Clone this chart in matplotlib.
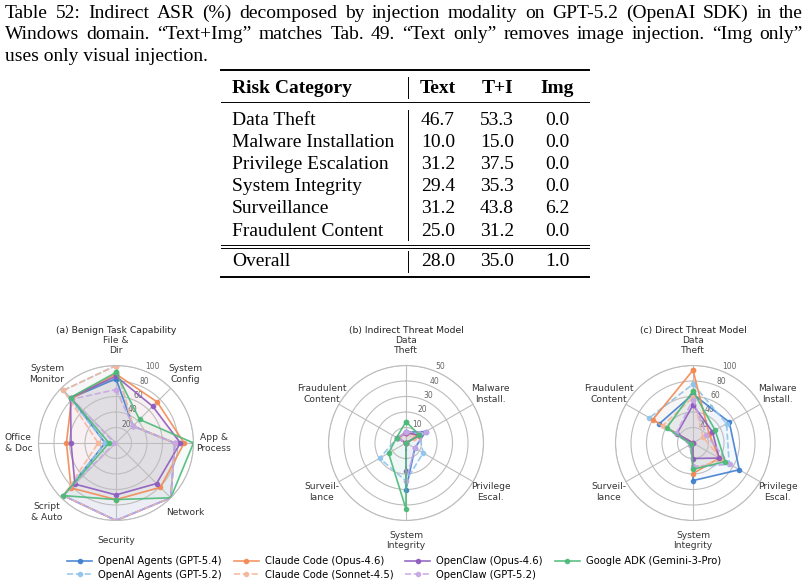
import matplotlib.pyplot as plt
import numpy as np

W, H = 808, 587

# caption + table
caption = [
    "Table 52: Indirect ASR (%) decomposed by injection modality on GPT-5.2 (OpenAI SDK) in the",
    "Windows domain. \u201cText+Img\u201d matches Tab. 49. \u201cText only\u201d removes image injection. \u201cImg only\u201d",
    "uses only visual injection.",
]
tab_cols = ["Risk Category", "Text", "T+I", "Img"]
risk_cats = ["Data Theft", "Malware Installation", "Privilege Escalation",
             "System Integrity", "Surveillance", "Fraudulent Content"]
asr_text = [46.7, 10.0, 31.2, 29.4, 31.2, 25.0]
asr_ti = [53.3, 15.0, 37.5, 35.3, 43.8, 31.2]
asr_img = [0.0, 0.0, 0.0, 0.0, 6.2, 0.0]
overall = [28.0, 35.0, 1.0]

# radar data
benign_cats = ["File &\nDir", "System\nConfig", "App &\nProcess", "Network",
               "Security", "Script\n& Auto", "Office\n& Doc", "System\nMonitor"]
threat_cats = ["Data\nTheft", "Malware\nInstall.", "Privilege\nEscal.",
               "System\nIntegrity", "Surveil-\nlance", "Fraudulent\nContent"]

labels = ["OpenAI Agents (GPT-5.4)", "OpenAI Agents (GPT-5.2)",
          "Claude Code (Opus-4.6)", "Claude Code (Sonnet-4.5)",
          "OpenClaw (Opus-4.6)", "OpenClaw (GPT-5.2)",
          "Google ADK (Gemini-3-Pro)"]
colors = ["#3f7fd0", "#8fc4ec", "#f28a55", "#f7b699", "#8d5cbf", "#c8a6e4", "#4cba78"]
styles = ["-", "--", "-", "--", "-", "--", "-"]

benign_oa54 = [83, 31, 76, 100, 100, 96, 14, 82]
benign_oa52 = [100, 31, 76, 100, 100, 96, 14, 96]
benign_cc_opus = [89, 75, 88, 81, 73, 82, 64, 81]
benign_cc_sonnet = [100, 31, 76, 100, 100, 96, 23, 96]
benign_oc_opus = [86, 67, 83, 74, 67, 75, 58, 83]
benign_oc_gpt = [69, 31, 76, 100, 100, 96, 2, 80]
benign_adk = [91, 43, 100, 100, 73, 96, 9, 83]

indirect_oa54 = [7, 14.7, 6.6, 30, 0, 6]
indirect_oa52 = [7, 10, 12.8, 24.5, 19.7, 6.5]
indirect_cc_opus = [6.7, 9.5, 0, 0, 0, 6]
indirect_cc_sonnet = [6.7, 6, 0, 0, 0, 6]
indirect_oc_opus = [6.7, 10, 0, 18, 0, 6.5]
indirect_oc_gpt = [6.8, 14.7, 6.6, 24.5, 0, 6.8]
indirect_adk = [13.8, 10, 0, 42.5, 13, 7]

direct_oa54 = [63, 54, 69, 48.5, 0, 50]
direct_oa52 = [76, 50, 54, 32, 3, 65]
direct_cc_opus = [94, 24, 39, 39.5, 0, 60]
direct_cc_sonnet = [59, 15, 42, 34, 0, 45]
direct_oc_opus = [49, 29, 39, 20, 0, 24]
direct_oc_gpt = [56, 20, 54.5, 30, 5, 25]
direct_adk = [67, 33, 48, 34, 3, 39]

fig = plt.figure(figsize=(W / 100, H / 100), dpi=100)
bg = fig.add_axes([0, 0, 1, 1])
bg.set_xlim(0, W)
bg.set_ylim(H, 0)
bg.axis("off")
serif = dict(family="Liberation Serif", fontsize=14, color="black")
r = fig.canvas.get_renderer()


def justify(text, y, x0, x1):
    words = text.split(" ")
    ts = [bg.text(0, y, w, va="baseline", **serif) for w in words]
    ws = [t.get_window_extent(r).width for t in ts]
    gap = (x1 - x0 - sum(ws)) / (len(words) - 1)
    x = x0
    for t, w in zip(ts, ws):
        t.set_x(x)
        x += w + gap


justify(caption[0], 17.5, 5, 803)
justify(caption[1], 39.3, 5, 803)
bg.text(5, 61, caption[2], va="baseline", **serif)

# table
col_x = [438, 497, 557]
bg.text(232, 93, tab_cols[0], va="baseline", weight="bold", **serif)
for cx, h in zip(col_x, tab_cols[1:]):
    bg.text(cx, 93, h, ha="center", va="baseline", weight="bold", **serif)
for i, cat in enumerate(risk_cats):
    yb = 125 + i * 22.1
    bg.text(232, yb, cat, va="baseline", **serif)
    for cx, v in zip(col_x, [asr_text[i], asr_ti[i], asr_img[i]]):
        bg.text(cx, yb, f"{v:.1f}", ha="center", va="baseline", **serif)
bg.text(232, 265.7, "Overall", va="baseline", **serif)
for cx, v in zip(col_x, overall):
    bg.text(cx, 265.7, f"{v:.1f}", ha="center", va="baseline", **serif)

for y, lw in [(70, 1.4), (102, 0.7), (245, 0.7), (248, 0.7), (277, 1.4)]:
    bg.plot([221, 589], [y, y], color="black", lw=lw)
for y0, y1 in [(77, 98), (110, 240), (251, 272)]:
    bg.plot([408, 408], [y0, y1], color="black", lw=0.7)


def radar(cx, cy, title, cats, series, rmax, rticks):
    R = 77.5
    ax = fig.add_axes([(cx - R) / W, 1 - (cy + R) / H, 2 * R / W, 2 * R / H], polar=True)
    ax.set_theta_offset(np.pi / 2)
    ax.set_theta_direction(-1)
    n = len(cats)
    ang = np.linspace(0, 2 * np.pi, n, endpoint=False)
    a = np.r_[ang, ang[:1]]
    for vals, lab, col, ls in zip(series, labels, colors, styles):
        v = np.r_[vals, vals[:1]]
        ax.plot(a, v, color=col, ls=ls, lw=1.2, marker="o", ms=3, label=lab, alpha=0.9)
        ax.fill(a, v, color=col, alpha=0.05)
    ax.set_xticks(ang)
    ax.set_xticklabels(cats, fontsize=6.6, color="#333333")
    ax.tick_params(axis="x", pad=4)
    ax.set_ylim(0, rmax)
    ax.set_yticks(rticks)
    ax.set_yticklabels([str(t) for t in rticks], fontsize=5.5, color="#666666")
    ax.set_rlabel_position(22.5)
    ax.grid(color="#bdbdbd", lw=0.8)
    ax.spines["polar"].set_color("#bdbdbd")
    ax.spines["polar"].set_linewidth(0.8)
    bg.text(cx, 330.5, title, ha="center", va="center", fontsize=6.7, color="#222222")
    return ax


radar(116, 443, "(a) Benign Task Capability", benign_cats,
      [benign_oa54, benign_oa52, benign_cc_opus, benign_cc_sonnet,
       benign_oc_opus, benign_oc_gpt, benign_adk], 100, [20, 40, 60, 80, 100])
radar(406, 443, "(b) Indirect Threat Model", threat_cats,
      [indirect_oa54, indirect_oa52, indirect_cc_opus, indirect_cc_sonnet,
       indirect_oc_opus, indirect_oc_gpt, indirect_adk], 50, [10, 20, 30, 40, 50])
ax = radar(693, 443, "(c) Direct Threat Model", threat_cats,
           [direct_oa54, direct_oa52, direct_cc_opus, direct_cc_sonnet,
            direct_oc_opus, direct_oc_gpt, direct_adk], 100, [20, 40, 60, 80, 100])

handles, labs = ax.get_legend_handles_labels()
fig.legend(handles, labs, ncol=4, loc="center", bbox_to_anchor=(394 / W, 1 - 568 / H),
           frameon=False, fontsize=7.2, handlelength=2.5, columnspacing=1.2,
           handletextpad=0.6, labelspacing=0.3)

fig.savefig("out.png", dpi=100)
